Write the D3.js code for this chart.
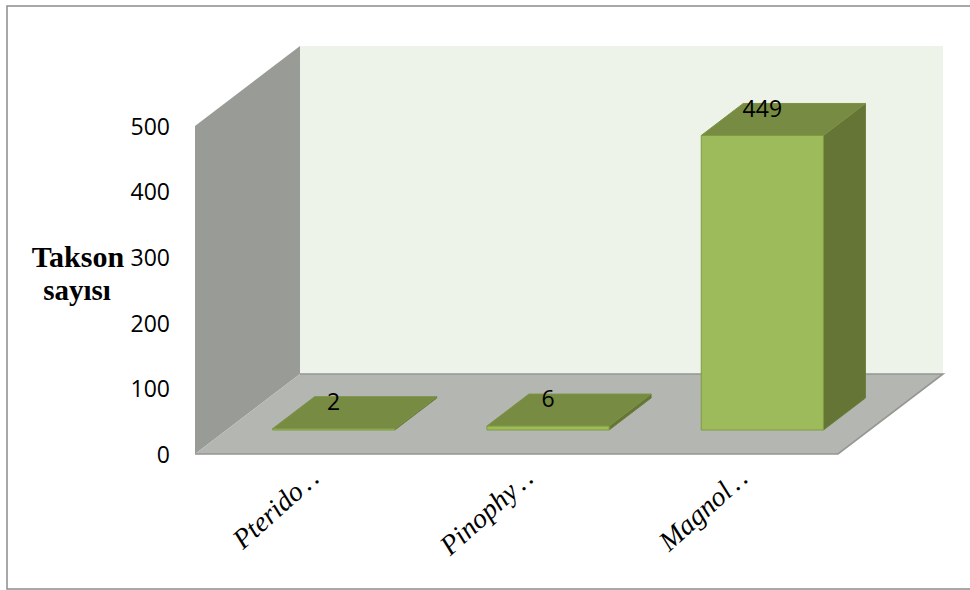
<!DOCTYPE html>
<html>
<head>
<meta charset="utf-8">
<script src="https://cdn.jsdelivr.net/npm/d3@7"></script>
<style>
    html, body { margin: 0; padding: 0; background: #fff; }
    svg { display: block; }
    .y-axis text { font-family: "Open Sans", sans-serif; font-size: 23px; fill: #000; }
    .value { font-family: "Open Sans", sans-serif; font-size: 23px; fill: #000; text-anchor: middle; }
    .x-label { font-family: "Liberation Serif", serif; font-style: italic; font-size: 28px; fill: #000; text-anchor: end; }
    .y-title { font-family: "Liberation Serif", serif; font-weight: bold; fill: #000; text-anchor: middle; }
</style>
</head>
<body>
<script>
var categories = ["Pterido", "Pinophy", "Magnol"];
var taxonCounts = [2, 6, 449];
var yTicks = [0, 100, 200, 300, 400, 500];

var width = 970, height = 590;

// Front edge of the floor, and how far the box recedes towards the back wall
var plot = { left: 195, right: 838, bottom: 454, top: 126 },
    depth = { x: 105, y: 80 };
// Bars stand on the middle of the floor's depth
var barFront = 0.3, barBack = 0.7;

var x = d3.scaleBand()
    .domain(categories)
    .range([plot.left, plot.right])
    .paddingInner(0.43)
    .paddingOuter(0.215);
var y = d3.scaleLinear()
    .domain([0, 500])
    .range([plot.bottom, plot.top]);

var svg = d3.select("body").append("svg")
    .attr("width", width)
    .attr("height", height);

function polygon(points, fill, stroke) {
    svg.append("polygon")
        .attr("points", points.map(function(p) { return p.join(","); }).join(" "))
        .attr("fill", fill)
        .attr("stroke", stroke || "none")
        .attr("stroke-width", stroke ? 1 : 0)
        .attr("stroke-linejoin", "round");
}

// Shift a point on the front plane back by a fraction of the depth
function back(px, py, f) {
    return [px + depth.x * f, py - depth.y * f];
}

// Outer frame, open on the right where it runs off the page
svg.append("path")
    .attr("d", d3.line()([[width, 6], [7, 6], [7, 589], [width, 589]]))
    .attr("fill", "none")
    .attr("stroke", "#8c8c8c")
    .attr("stroke-width", 1.5);

// Back wall, side wall and floor
polygon([back(plot.left, plot.top, 1), back(plot.right, plot.top, 1),
         back(plot.right, plot.bottom, 1), back(plot.left, plot.bottom, 1)], "#eef3ea");
polygon([[plot.left, plot.top], back(plot.left, plot.top, 1),
         back(plot.left, plot.bottom, 1), [plot.left, plot.bottom]], "#999b96");
polygon([[plot.left, plot.bottom], [plot.right, plot.bottom],
         back(plot.right, plot.bottom, 1), back(plot.left, plot.bottom, 1)], "#b4b6b1");

svg.append("path")
    .attr("d", d3.line()([back(plot.left, plot.bottom, 1), back(plot.right, plot.bottom, 1),
                          [plot.right, plot.bottom], [plot.left, plot.bottom]]))
    .attr("fill", "none")
    .attr("stroke", "#959792")
    .attr("stroke-width", 1.6);

// 3D bars
categories.forEach(function(c, i) {
    var v = taxonCounts[i],
        x0 = x(c),
        x1 = x0 + x.bandwidth(),
        floorY = plot.bottom,
        topY = y(v);

    var fl = back(x0, floorY, barFront), fr = back(x1, floorY, barFront),
        tl = back(x0, topY, barFront), tr = back(x1, topY, barFront),
        bl = back(x0, topY, barBack), br = back(x1, topY, barBack),
        sb = back(x1, floorY, barBack);

    polygon([tr, br, sb, fr], "#647536", "#6b7d3a");
    polygon([tl, tr, br, bl], "#778c42", "#7d9246");
    polygon([tl, tr, fr, fl], "#9dbb5a", "#7f9b42");

    svg.append("text")
        .attr("class", "value")
        .attr("x", (fl[0] + fr[0]) / 2)
        .attr("y", tl[1] - 27)
        .attr("dy", "0.36em")
        .text(v);

    // Rotated category name, cut short with two dots
    var label = svg.append("text")
        .attr("class", "x-label")
        .attr("transform", "translate(" + (x0 + x.bandwidth() / 2 + 21) + ",478) rotate(-42)");
    label.append("tspan").text(c);
    label.append("tspan").attr("dx", 4).attr("letter-spacing", 3).text("..");
});

// Value axis
svg.append("g")
    .attr("class", "y-axis")
    .attr("transform", "translate(" + (plot.left - 7) + ",1)")
    .call(d3.axisLeft(y).tickValues(yTicks).tickSize(0).tickPadding(18))
    .call(function(g) { g.select(".domain").remove(); });

// Axis title
svg.append("text").attr("class", "y-title")
    .attr("x", 78).attr("y", 267).attr("font-size", 30).text("Takson");
svg.append("text").attr("class", "y-title")
    .attr("x", 77).attr("y", 300).attr("font-size", 29).text("sayısı");
</script>
</body>
</html>
